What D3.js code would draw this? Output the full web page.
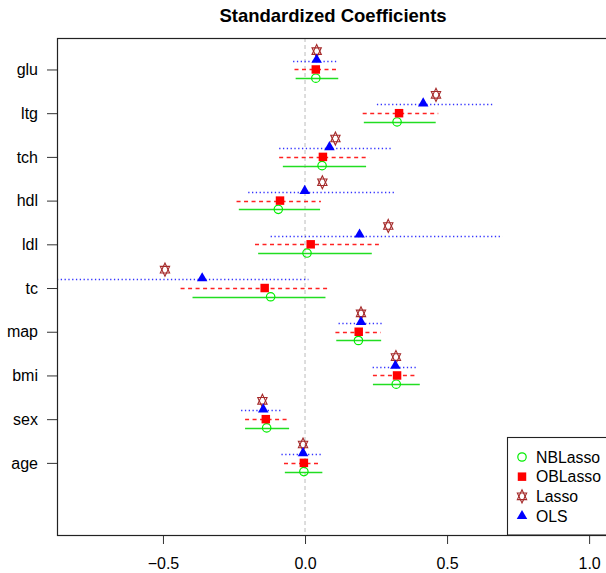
<!DOCTYPE html>
<html lang="en">
<head>
<meta charset="utf-8">
<title>Standardized Coefficients</title>
<script src="https://d3js.org/d3.v7.min.js"></script>
<style>
  body { margin: 0; background: #fff; }
  text { font-family: "Liberation Sans", Arial, sans-serif; }
</style>
</head>
<body>
<script>

// variables, bottom to top
var vars = ["age", "sex", "bmi", "map", "tc", "ldl", "hdl", "tch", "ltg", "glu"];

// NBLasso: estimate and interval
var nbEst = [-0.004, -0.135, 0.321, 0.188, -0.121, 0.007, -0.094, 0.060, 0.324, 0.038];
var nbLo  = [-0.071, -0.211, 0.239, 0.110, -0.396, -0.165, -0.233, -0.078, 0.207, -0.033];
var nbHi  = [0.061, -0.056, 0.404, 0.268, 0.072, 0.235, 0.053, 0.215, 0.460, 0.117];

// OBLasso
var obEst = [-0.004, -0.138, 0.324, 0.189, -0.142, 0.020, -0.088, 0.063, 0.331, 0.038];
var obLo  = [-0.074, -0.211, 0.239, 0.107, -0.438, -0.176, -0.241, -0.091, 0.203, -0.037];
var obHi  = [0.056, -0.059, 0.396, 0.267, 0.084, 0.260, 0.056, 0.226, 0.469, 0.120];

// Lasso (point only)
var lassoEst = [-0.007, -0.150, 0.320, 0.197, -0.493, 0.293, 0.061, 0.107, 0.461, 0.041];

// OLS
var olsEst = [-0.007, -0.147, 0.318, 0.197, -0.362, 0.192, -0.001, 0.086, 0.416, 0.041];
var olsLo  = [-0.083, -0.225, 0.238, 0.118, -0.900, -0.121, -0.200, -0.091, 0.253, -0.042];
var olsHi  = [0.060, -0.083, 0.393, 0.274, 0.012, 0.695, 0.317, 0.308, 0.664, 0.114];

var xTicks = [-0.5, 0.0, 0.5, 1.0];
var legendLabels = ["NBLasso", "OBLasso", "Lasso", "OLS"];

var width = 606, height = 573;
var pL = 57, pR = 609, pT = 38, pB = 535;

var x = d3.scaleLinear().domain([-0.873, 1.070]).range([pL, pR]);
var y = d3.scaleLinear().domain([-0.65, 10.72]).range([pB, pT]);

var svg = d3.select("body").append("svg")
    .attr("width", width)
    .attr("height", height)
    .style("display", "block");

svg.append("rect").attr("width", width).attr("height", height).attr("fill", "#fff");

svg.append("defs").append("clipPath").attr("id", "plotclip")
  .append("rect")
    .attr("x", pL).attr("y", pT)
    .attr("width", pR - pL).attr("height", pB - pT);

// title
svg.append("text")
    .attr("x", (pL + pR) / 2)
    .attr("y", 22)
    .attr("text-anchor", "middle")
    .attr("font-weight", "bold")
    .attr("font-size", "18.5px")
    .text("Standardized Coefficients");

var plot = svg.append("g").attr("clip-path", "url(#plotclip)");

// zero reference line
plot.append("line")
    .attr("x1", x(0)).attr("x2", x(0))
    .attr("y1", pT).attr("y2", pB)
    .attr("stroke", "#bbb")
    .attr("stroke-dasharray", "4,3");

function intervals(lo, hi, off, color, dash) {
  plot.append("g").selectAll("line")
    .data(vars.map(function(v, i) { return i; }))
    .enter().append("line")
      .attr("x1", function(i) { return x(lo[i]); })
      .attr("x2", function(i) { return x(hi[i]); })
      .attr("y1", function(i) { return Math.round(y(i + 1 + off)) + 0.5; })
      .attr("y2", function(i) { return Math.round(y(i + 1 + off)) + 0.5; })
      .attr("stroke", color)
      .attr("stroke-width", 1.3)
      .attr("stroke-dasharray", dash);
}

intervals(nbLo, nbHi, -0.2, "#22dd22", null);
intervals(obLo, obHi, 0, "#ff2222", "4,3.5");
intervals(olsLo, olsHi, 0.2, "#3333ff", "1.3,2.5");

var tri = d3.symbol().type(d3.symbolTriangle).size(48)();
var sq = d3.symbol().type(d3.symbolSquare).size(72)();
var triStar = d3.symbol().type(d3.symbolTriangle).size(56)();

function drawCircle(g, cx, cy) {
  g.append("circle").attr("cx", cx).attr("cy", cy).attr("r", 4.2)
    .attr("fill", "none").attr("stroke", "#00ee00").attr("stroke-width", 1.2);
}
function drawSquare(g, cx, cy) {
  g.append("path").attr("d", sq).attr("transform", "translate(" + cx + "," + cy + ")")
    .attr("fill", "#ff0000");
}
function drawTri(g, cx, cy) {
  g.append("path").attr("d", tri).attr("transform", "translate(" + cx + "," + (cy - 1) + ")")
    .attr("fill", "#0000ff");
}
function drawStar(g, cx, cy) {
  g.append("path").attr("d", triStar).attr("transform", "translate(" + cx + "," + cy + ") scale(0.82,1)")
    .attr("fill", "none").attr("stroke", "#a52a2a").attr("stroke-width", 1.1)
    .attr("vector-effect", "non-scaling-stroke");
  g.append("path").attr("d", triStar).attr("transform", "translate(" + cx + "," + cy + ") scale(0.82,-1)")
    .attr("fill", "none").attr("stroke", "#a52a2a").attr("stroke-width", 1.1)
    .attr("vector-effect", "non-scaling-stroke");
}

var pts = plot.append("g");
vars.forEach(function(v, i) {
  drawCircle(pts, x(nbEst[i]), y(i + 1 - 0.2));
  drawSquare(pts, x(obEst[i]), y(i + 1));
  drawStar(pts, x(lassoEst[i]), y(i + 1 + 0.42));
  drawTri(pts, x(olsEst[i]), y(i + 1 + 0.2));
});

// axes
svg.append("g")
    .attr("transform", "translate(0," + pB + ")")
    .call(d3.axisBottom(x).tickValues(xTicks).tickSize(9).tickPadding(14)
      .tickFormat(d3.format(".1f")))
    .call(function(g) { g.select(".domain").remove(); })
    .call(function(g) {
      g.selectAll("text").attr("font-size", "16px").attr("fill", "#000")
        .attr("font-family", "'Liberation Sans', Arial, sans-serif");
      g.selectAll("line").attr("stroke", "#333");
    });

svg.append("g")
    .attr("transform", "translate(" + pL + ",0)")
    .call(d3.axisLeft(y).tickValues(d3.range(1, vars.length + 1)).tickSize(10).tickPadding(9)
      .tickFormat(function(d) { return vars[d - 1]; }))
    .call(function(g) { g.select(".domain").remove(); })
    .call(function(g) {
      g.selectAll("text").attr("font-size", "16px").attr("fill", "#000")
        .attr("font-family", "'Liberation Sans', Arial, sans-serif");
      g.selectAll("line").attr("stroke", "#333");
    });

// box
svg.append("rect")
    .attr("x", pL + 0.5).attr("y", pT + 0.5)
    .attr("width", pR - pL).attr("height", pB - pT)
    .attr("fill", "none").attr("stroke", "#222").attr("stroke-width", 1.2);

// legend
var lg = svg.append("g");
lg.append("rect")
    .attr("x", 507.5).attr("y", 437.5)
    .attr("width", 120).attr("height", pB - 437.5)
    .attr("fill", "#fff").attr("stroke", "#222").attr("stroke-width", 1.1);

var legY = d3.scalePoint().domain(legendLabels).range([457, 516]);
var symX = 522;
drawCircle(lg, symX, legY("NBLasso"));
drawSquare(lg, symX, legY("OBLasso"));
drawStar(lg, symX, legY("Lasso"));
drawTri(lg, symX, legY("OLS") + 1);

lg.selectAll("text.leg")
  .data(legendLabels)
  .enter().append("text")
    .attr("class", "leg")
    .attr("x", 536)
    .attr("y", function(d) { return legY(d); })
    .attr("dy", "0.36em")
    .attr("font-size", "15.8px")
    .text(function(d) { return d; });

</script>
</body>
</html>
